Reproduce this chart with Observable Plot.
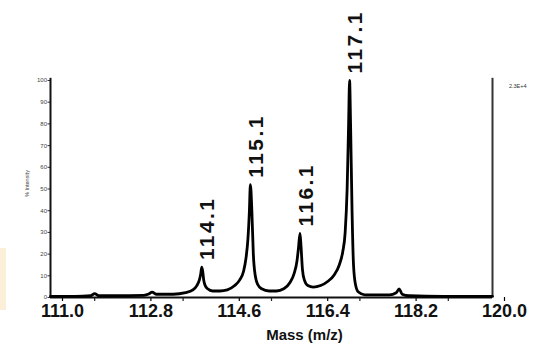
<!DOCTYPE html>
<html>
<head>
<meta charset="utf-8">
<script src="https://cdn.jsdelivr.net/npm/d3@7"></script>
<script src="https://cdn.jsdelivr.net/npm/@observablehq/plot@0.6"></script>
<style>
  html, body { margin: 0; padding: 0; background: #fff; }
  #wrap { position: relative; width: 544px; height: 345px; overflow: hidden; }
  #peach { position: absolute; left: 0; top: 248px; width: 6px; height: 62px; background: #fcefd9; }
  text[aria-label="peak-labels"], g[aria-label="peak-labels"] text { letter-spacing: 2.4px; }
</style>
</head>
<body>
<div id="wrap"><div id="peach"></div><div id="chart"></div></div>
<script>
// Spectrum trace (m/z, % intensity)
const mz = [111.0, 111.5, 111.82, 111.9, 111.98, 112.3, 112.9, 113.0, 113.07, 113.15, 113.5, 113.75, 113.9, 113.98, 114.03, 114.06, 114.08, 114.1, 114.12, 114.15, 114.2, 114.3, 114.45, 114.6, 114.75, 114.85, 114.93, 114.98, 115.02, 115.05, 115.07, 115.1, 115.13, 115.17, 115.22, 115.3, 115.45, 115.6, 115.75, 115.88, 115.96, 116.02, 116.05, 116.08, 116.1, 116.13, 116.17, 116.24, 116.35, 116.5, 116.65, 116.78, 116.88, 116.95, 117.0, 117.04, 117.07, 117.09, 117.11, 117.14, 117.17, 117.21, 117.27, 117.4, 117.9, 118.04, 118.1, 118.16, 118.3, 119.0, 120.0];
const intensity = [0.5, 0.5, 0.8, 1.8, 0.8, 0.8, 1.0, 1.6, 2.5, 1.5, 1.5, 2.2, 3.5, 5.5, 8, 11, 14, 12, 8, 5.5, 4, 3, 3, 3.5, 5.5, 8, 12, 18, 27, 40, 52, 40, 20, 10, 6, 4, 3, 3, 4, 7, 11, 17, 23, 29.5, 24, 13, 8, 5.5, 4.8, 5.5, 7.5, 10.5, 15, 21, 30, 50, 80, 100, 80, 40, 15, 6, 2.5, 1.2, 1.2, 2.2, 4, 1.5, 0.8, 0.5, 0.5];

// Peak annotations
const peakLabels = ["114.1", "115.1", "116.1", "117.1"];
const peakMz = [114.08, 115.07, 116.08, 117.09];
const peakInt = [14, 52, 29.5, 100];

// Axis ticks
const xMajorTicks = [111.0, 112.8, 114.6, 116.4, 118.2, 120.0];
const xMinorTicks = [111.9, 113.7, 115.5, 117.3, 119.1];
const yTicks = [0, 10, 20, 30, 40, 50, 60, 70, 80, 90, 100];
const xDomain = [111.0, 120.0];
const yDomain = [0, 100];
const xTitle = "Mass (m/z)";
const yTitle = "% Intensity";
const scaleNote = "2.3E+4";

const spectrum = mz.map((m, i) => ({m, v: intensity[i]}));
const peaks = peakLabels.map((t, i) => ({t, m: peakMz[i], v: peakInt[i]}));

const font = "Liberation Sans, Arial, sans-serif";

const chart = Plot.plot({
  width: 544,
  height: 345,
  marginLeft: 50,
  marginRight: 52,
  marginTop: 80,
  marginBottom: 48,
  style: {fontFamily: font, background: "#fff", overflow: "visible"},
  x: {domain: xDomain, axis: null},
  y: {domain: yDomain, axis: null},
  marks: [
    // minor x ticks
    Plot.axisX({ticks: xMinorTicks, tickFormat: () => "", tickSize: 4, strokeWidth: 1.2, stroke: "#222", label: null}),
    // major x ticks + labels
    Plot.axisX({ticks: xMajorTicks, tickFormat: d3.format(".1f"), tickSize: 4, tickPadding: 3,
      fontSize: 18, fontWeight: "bold", dx: 12, fill: "#111", strokeWidth: 1.2, label: null}),
    Plot.text([xTitle], {frameAnchor: "bottom", dy: 42, dx: 33, text: d => d, fontSize: 15, fontWeight: "bold", fill: "#111"}),
    // y axis
    Plot.axisY({ticks: yTicks, tickSize: 2.5, tickPadding: 1, fontSize: 6, fill: "#444", stroke: "#333", label: null}),
    Plot.text([yTitle], {frameAnchor: "left", rotate: -90, dx: -23, dy: 8, text: d => d, fontSize: 5.5, fill: "#444"}),
    // frame lines
    Plot.ruleX([xDomain[0]], {y1: 0, y2: 101, stroke: "#111", strokeWidth: 2}),
    Plot.ruleX([xDomain[1]], {y1: 0, y2: 101, stroke: "#333", strokeWidth: 2}),
    Plot.ruleY([0], {stroke: "#111", strokeWidth: 2}),
    Plot.text([scaleNote], {frameAnchor: "top-right", dx: 34, dy: 4, text: d => d, fontSize: 5.5, fill: "#333"}),
    // spectrum
    Plot.line(spectrum, {x: "m", y: "v", curve: "monotone-x", stroke: "#000", strokeWidth: 2.8, strokeLinejoin: "round"}),
    // peak labels
    Plot.text(peaks, {x: "m", y: "v", text: "t", rotate: -90, textAnchor: "start", lineAnchor: "middle",
      dx: 6, dy: -7, fontSize: 21, fontWeight: "bold", fill: "#111", ariaLabel: () => "peak-labels"})
  ]
});
document.getElementById("chart").appendChild(chart);
</script>
</body>
</html>
